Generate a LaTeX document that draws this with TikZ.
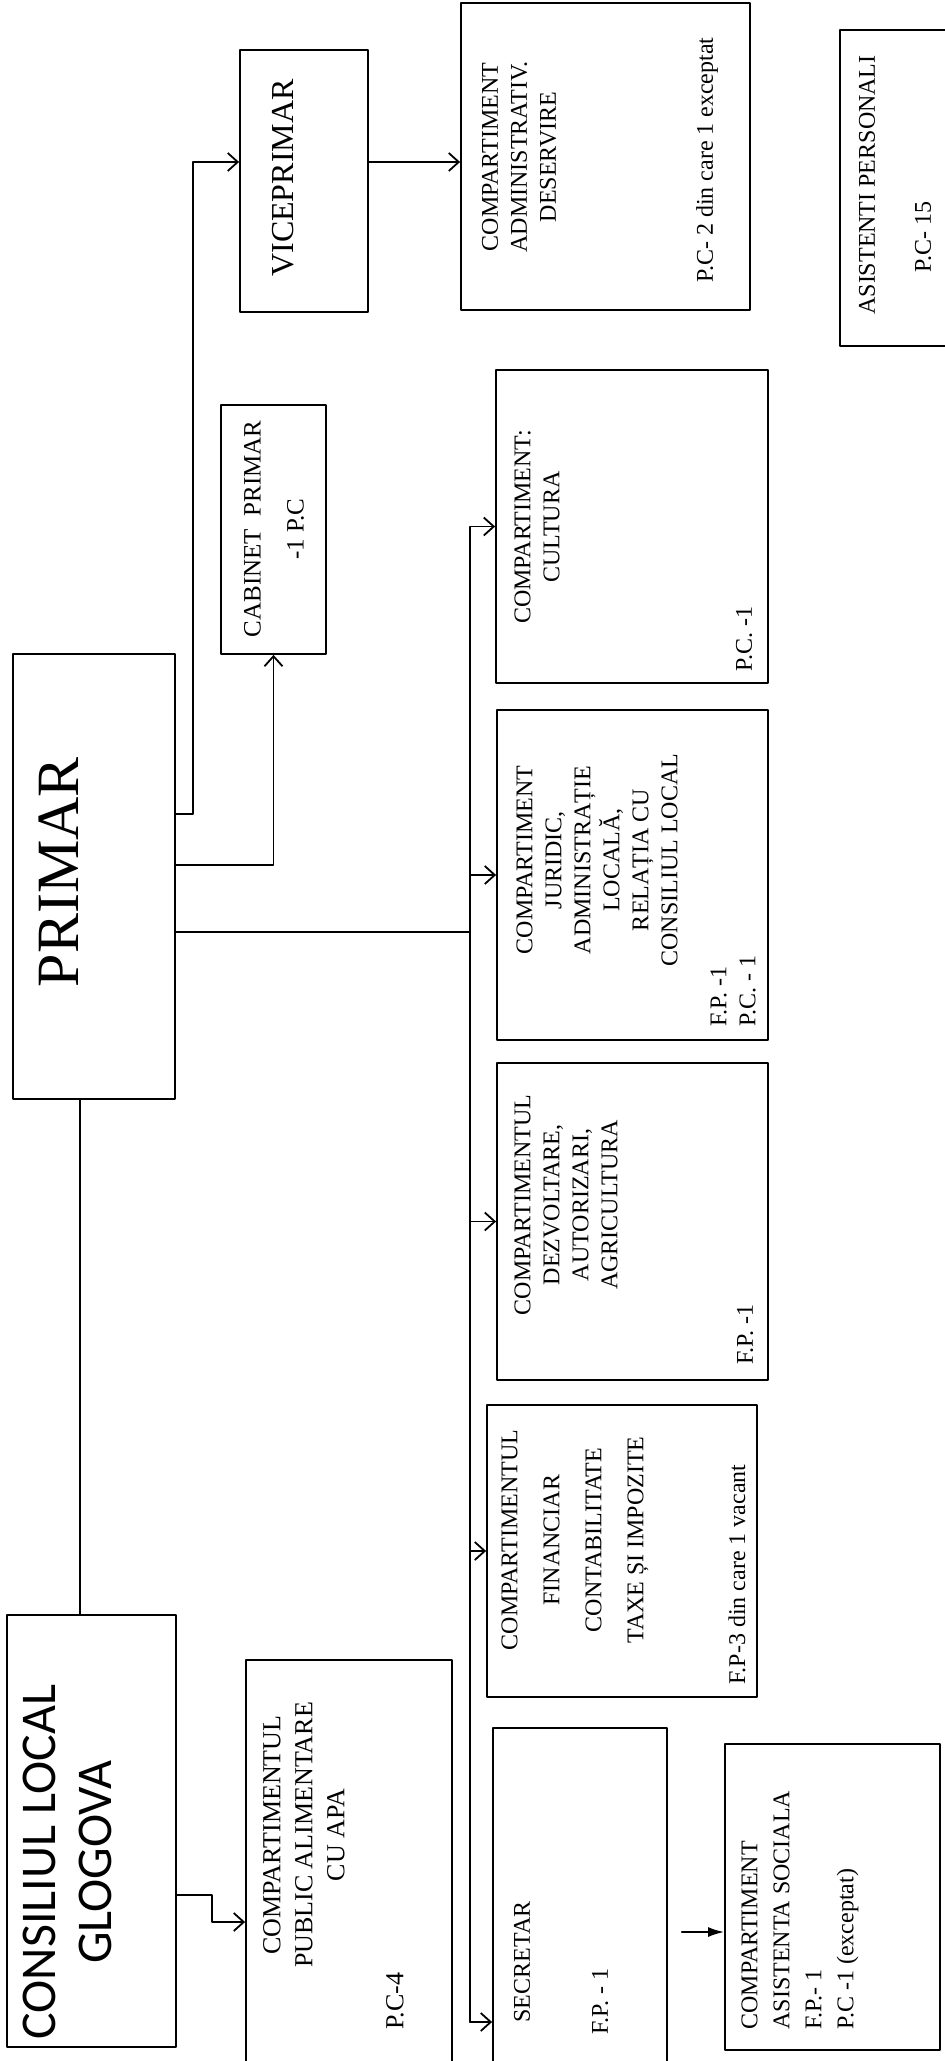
\documentclass[tikz,border=0pt]{standalone}
\usepackage{fontspec}
\setmainfont{Liberation Serif}
\newfontfamily\calfont{Carlito}
\usetikzlibrary{arrows.meta}
\begin{document}
\begin{tikzpicture}[x=0.5pt,y=-0.5pt,line cap=round,line join=round]
\tikzstyle{box}=[draw,line width=0.9pt,inner sep=0pt]
\tikzstyle{lbl}=[rotate=90,align=center,inner sep=0pt,font=\fontsize{12}{14.5}\selectfont]
\tikzstyle{link}=[line width=0.9pt]
\tikzstyle{arr}=[line width=0.9pt,-{Straight Barb[length=5pt,width=9pt]}]
\tikzstyle{farr}=[line width=0.9pt,-{Latex[length=8pt,width=5pt]}]
\useasboundingbox (0,0) rectangle (945,2061);
\foreach \b/\xa/\ya/\xb/\yb in {prim/13/654/175/1099, cons/7/1615/176/2047, vice/240/50/368/312, cab/221/405/326/654, adm/461/3/750/310, asp/840/30/960/346, cult/496/370/768/683, jur/497/710/768/1040, dezv/497/1063/768/1380, fin/487/1405/757/1697, secr/493/1728/667/2080, asoc/725/1744/940/2050, pub/246/1660/452/2080} {\node[box,minimum width={(\xb-\xa)*0.5pt},minimum height={(\yb-\ya)*0.5pt}] (\b) at ({(\xa+\xb)/2},{(\ya+\yb)/2}) {};}
\node[lbl,font=\fontsize{30}{30}\selectfont] (tprim) at (59,872) {PRIMAR};
\node[lbl,font=\calfont\fontsize{25}{28}\selectfont] (tcons) at (67,1862) {CONSILIUL LOCAL\\GLOGOVA};
\node[lbl,font=\fontsize{16}{19}\selectfont] (tvice) at (283,178) {VICEPRIMAR};
\node[lbl,font=\fontsize{12.5}{21.5}\selectfont] (tcab) at (274,529) {CABINET\ \ PRIMAR\\-1 P.C};
\node[lbl] (tadm) at (519,157) {COMPARTIMENT\\ADMINISTRATIV.\\DESERVIRE};
\node[lbl] (nadm) at (707,160) {P.C- 2 din care 1 exceptat};
\node[lbl] (tasp) at (867,185) {ASISTENTI PERSONALI};
\node[lbl] (nasp) at (923,237) {P.C- 15};
\node[lbl] (tcult) at (537,527) {COMPARTIMENT:\\CULTURA};
\node[lbl,anchor=west] (ncult) at (744,672) {P.C. -1};
\node[lbl] (tjur) at (597,860) {COMPARTIMENT\\JURIDIC,\\ADMINISTRAȚIE\\LOCALĂ,\\RELAȚIA CU\\CONSILIUL LOCAL};
\node[lbl,align=left,anchor=west] (njur) at (733,1027) {F.P. -1\\P.C. - 1};
\node[lbl] (tdezv) at (566,1205) {COMPARTIMENTUL\\DEZVOLTARE,\\AUTORIZARI,\\AGRICULTURA};
\node[lbl,anchor=west] (ndezv) at (745,1365) {F.P. -1};
\node[lbl,font=\fontsize{12}{21}\selectfont] (tfin) at (575,1540) {COMPARTIMENTUL\\FINANCIAR\\CONTABILITATE\\TAXE ȘI IMPOZITE};
\node[lbl,anchor=west] (nfin) at (737,1685) {F.P-3 din care 1 vacant};
\node[lbl] (tsecr) at (522,1962) {SECRETAR};
\node[lbl,anchor=west] (nsecr) at (600,2035) {F.P. - 1};
\node[lbl,align=left,anchor=west,font=\fontsize{12}{16}\selectfont] (tasoc) at (800,2030) {COMPARTIMENT\\ASISTENTA SOCIALA\\F.P.- 1\\P.C -1 (exceptat)};
\node[lbl,font=\fontsize{13}{16}\selectfont] (tpub) at (304,1835) {COMPARTIMENTUL\\PUBLIC ALIMENTARE\\CU APA};
\node[lbl,anchor=west,font=\fontsize{13}{16}\selectfont] (npub) at (395,2030) {P.C-4};
\coordinate (kvice) at (193,814);
\coordinate (vrow) at (0,162);
\coordinate (kcons) at (212,1895);
\coordinate (bustop) at (470,527);
\coordinate (busend) at (470,2022);
\draw[link] (prim.south -| 80,0) -- (cons.north -| 80,0);
\draw[arr] (prim.east |- kvice) -- (kvice) |- (vice.west |- vrow);
\draw[arr] (prim.east |- 0,865) -| (cab.south);
\draw[link] (prim.east |- 0,932) -- (470,932);
\draw[link] (bustop) -- (busend);
\foreach \b in {cult,jur,dezv,fin} {\draw[arr] (\b.west -| bustop) -- (\b.west);}
\draw[arr] (busend) -- (secr.west |- busend);
\draw[arr] (vice.east |- vrow) -- (adm.west |- vrow);
\draw[farr] ([xshift=7pt]secr.east |- 0,1932) -- (asoc.west |- 0,1932);
\draw[arr] (cons.east |- kcons) -- (kcons) |- (pub.west |- 0,1922);
\end{tikzpicture}
\end{document}
